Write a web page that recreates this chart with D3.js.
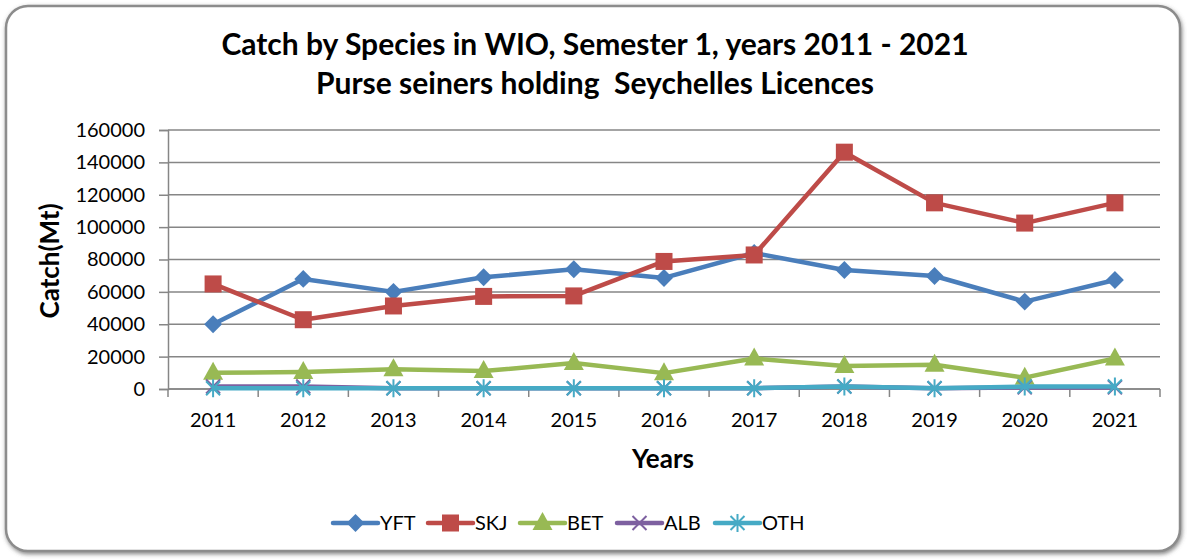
<!DOCTYPE html>
<html lang="en">
<head>
<meta charset="UTF-8">
<title>Catch by Species in WIO</title>
<script src="https://d3js.org/d3.v7.min.js"></script>
<style>
  body { margin: 0; background: #ffffff; font-family: Lato, "Open Sans", sans-serif; }
  svg { display: block; }
</style>
</head>
<body>
<svg id="chart" width="1187" height="560"></svg>
<script>
// data
const years = ["2011", "2012", "2013", "2014", "2015", "2016", "2017", "2018", "2019", "2020", "2021"];
const yft = [40000, 68000, 60000, 69000, 74000, 68600, 84000, 73500, 69800, 54000, 67300];
const skj = [64900, 42800, 51300, 57200, 57500, 78800, 82800, 146300, 115000, 102500, 115000];
const bet = [10000, 10500, 12200, 11100, 16000, 9800, 18800, 14200, 15000, 7000, 18800];
const alb = [1500, 1500, 500, 500, 500, 500, 500, 1500, 500, 1000, 1000];
const oth = [500, 500, 500, 500, 500, 500, 500, 1500, 500, 1500, 1500];
const yTicks = [0, 20000, 40000, 60000, 80000, 100000, 120000, 140000, 160000];

const series = [
  { name: "YFT", values: yft, color: "#4a7ebb", marker: "diamond" },
  { name: "SKJ", values: skj, color: "#be4b48", marker: "square" },
  { name: "BET", values: bet, color: "#98b954", marker: "triangle" },
  { name: "ALB", values: alb, color: "#7d60a0", marker: "x" },
  { name: "OTH", values: oth, color: "#46aac5", marker: "star" }
];

const svg = d3.select("#chart");

// rounded frame with soft shadow
const defs = svg.append("defs");
const f = defs.append("filter").attr("id", "shadow").attr("x", "-5%").attr("y", "-5%").attr("width", "110%").attr("height", "110%");
f.append("feDropShadow").attr("dx", 1).attr("dy", 2).attr("stdDeviation", 2).attr("flood-color", "#555").attr("flood-opacity", 0.7);
svg.append("rect")
  .attr("x", 6).attr("y", 6).attr("width", 1174).attr("height", 545)
  .attr("rx", 22).attr("ry", 22)
  .attr("fill", "#ffffff")
  .attr("stroke", "#8c8c8c").attr("stroke-width", 2.5)
  .attr("filter", "url(#shadow)");

// title
const title = svg.append("text")
  .attr("text-anchor", "middle")
  .attr("font-weight", "bold")
  .attr("font-size", 30)
  .style("white-space", "pre")
  .attr("fill", "#000");
title.append("tspan").attr("x", 595).attr("y", 55).text("Catch by Species in WIO, Semester 1, years 2011 - 2021");
title.append("tspan").attr("x", 595).attr("y", 94).text("Purse seiners holding  Seychelles Licences");

const plot = { left: 168, right: 1160, top: 130, bottom: 389 };

const x = d3.scaleBand().domain(years).range([plot.left, plot.right]);
const y = d3.scaleLinear().domain([0, 160000]).range([plot.bottom, plot.top]);

// gridlines
svg.append("g")
  .selectAll("line")
  .data(yTicks)
  .join("line")
  .attr("x1", plot.left).attr("x2", plot.right)
  .attr("y1", d => y(d)).attr("y2", d => y(d))
  .attr("stroke", "#868686").attr("stroke-width", 1.5);

// y axis
const yAxis = svg.append("g")
  .attr("transform", `translate(${plot.left},0)`)
  .call(d3.axisLeft(y).tickValues(yTicks).tickSize(9).tickPadding(14).tickFormat(d3.format("d")));
yAxis.select(".domain").attr("stroke", "#868686").attr("stroke-width", 1.5);
yAxis.selectAll(".tick line").attr("stroke", "#868686").attr("stroke-width", 1.5);
yAxis.selectAll("text").attr("font-size", 20).attr("font-family", "Lato, sans-serif").attr("fill", "#000");

// x axis: ticks at band edges
const xAxis = svg.append("g").attr("transform", `translate(0,${plot.bottom})`);
xAxis.append("line")
  .attr("x1", plot.left).attr("x2", plot.right)
  .attr("stroke", "#868686").attr("stroke-width", 1.5);
const edges = years.map(d => x(d)).concat([plot.right]);
xAxis.selectAll(".edge")
  .data(edges)
  .join("line")
  .attr("class", "edge")
  .attr("x1", d => d).attr("x2", d => d)
  .attr("y1", 0).attr("y2", 8)
  .attr("stroke", "#868686").attr("stroke-width", 1.5);
xAxis.selectAll(".lbl")
  .data(years)
  .join("text")
  .attr("class", "lbl")
  .attr("x", d => x(d) + x.bandwidth() / 2)
  .attr("y", 38)
  .attr("text-anchor", "middle")
  .attr("font-size", 20)
  .attr("fill", "#000")
  .text(d => d);

// axis titles
svg.append("text")
  .attr("x", 663).attr("y", 468)
  .attr("text-anchor", "middle")
  .attr("font-weight", "bold").attr("font-size", 26)
  .text("Years");
svg.append("text")
  .attr("transform", "translate(59,261) rotate(-90)")
  .attr("text-anchor", "middle")
  .attr("font-weight", "bold").attr("font-size", 26)
  .text("Catch(Mt)");

// markers
function drawMarker(g, type, color, cx, cy) {
  if (type === "diamond") {
    g.append("path").attr("d", d3.symbol(d3.symbolSquare, 160)()).attr("transform", `translate(${cx},${cy}) rotate(45)`).attr("fill", color);
  } else if (type === "square") {
    g.append("rect").attr("x", cx - 8.5).attr("y", cy - 8.5).attr("width", 17).attr("height", 17).attr("fill", color);
  } else if (type === "triangle") {
    g.append("path").attr("d", `M${cx},${cy - 11}L${cx + 10},${cy + 7}L${cx - 10},${cy + 7}Z`).attr("fill", color);
  } else if (type === "x") {
    g.append("path").attr("d", `M${cx - 7},${cy - 7}L${cx + 7},${cy + 7}M${cx - 7},${cy + 7}L${cx + 7},${cy - 7}`)
      .attr("stroke", color).attr("stroke-width", 2);
  } else if (type === "star") {
    g.append("path").attr("d", `M${cx - 7},${cy - 7}L${cx + 7},${cy + 7}M${cx - 7},${cy + 7}L${cx + 7},${cy - 7}M${cx},${cy - 9}L${cx},${cy + 9}`)
      .attr("stroke", color).attr("stroke-width", 2);
  }
}

const line = d3.line()
  .x((d, i) => x(years[i]) + x.bandwidth() / 2)
  .y(d => y(d));

series.forEach(s => {
  const g = svg.append("g");
  g.append("path")
    .datum(s.values)
    .attr("d", line)
    .attr("fill", "none")
    .attr("stroke", s.color)
    .attr("stroke-width", 4.5)
    .attr("stroke-linejoin", "round");
  s.values.forEach((v, i) => drawMarker(g, s.marker, s.color, x(years[i]) + x.bandwidth() / 2, y(v)));
});

// legend
const legendX = [333, 428, 520, 617, 715];
const legendY = 523;
series.forEach((s, i) => {
  const g = svg.append("g");
  const lx = legendX[i];
  g.append("line")
    .attr("x1", lx).attr("x2", lx + 45)
    .attr("y1", legendY).attr("y2", legendY)
    .attr("stroke", s.color).attr("stroke-width", 4.5).attr("stroke-linecap", "round");
  drawMarker(g, s.marker, s.color, lx + 22.5, legendY);
  g.append("text")
    .attr("x", lx + 47).attr("y", legendY + 7)
    .attr("font-size", 20).attr("fill", "#000")
    .text(s.name);
});
</script>
</body>
</html>
